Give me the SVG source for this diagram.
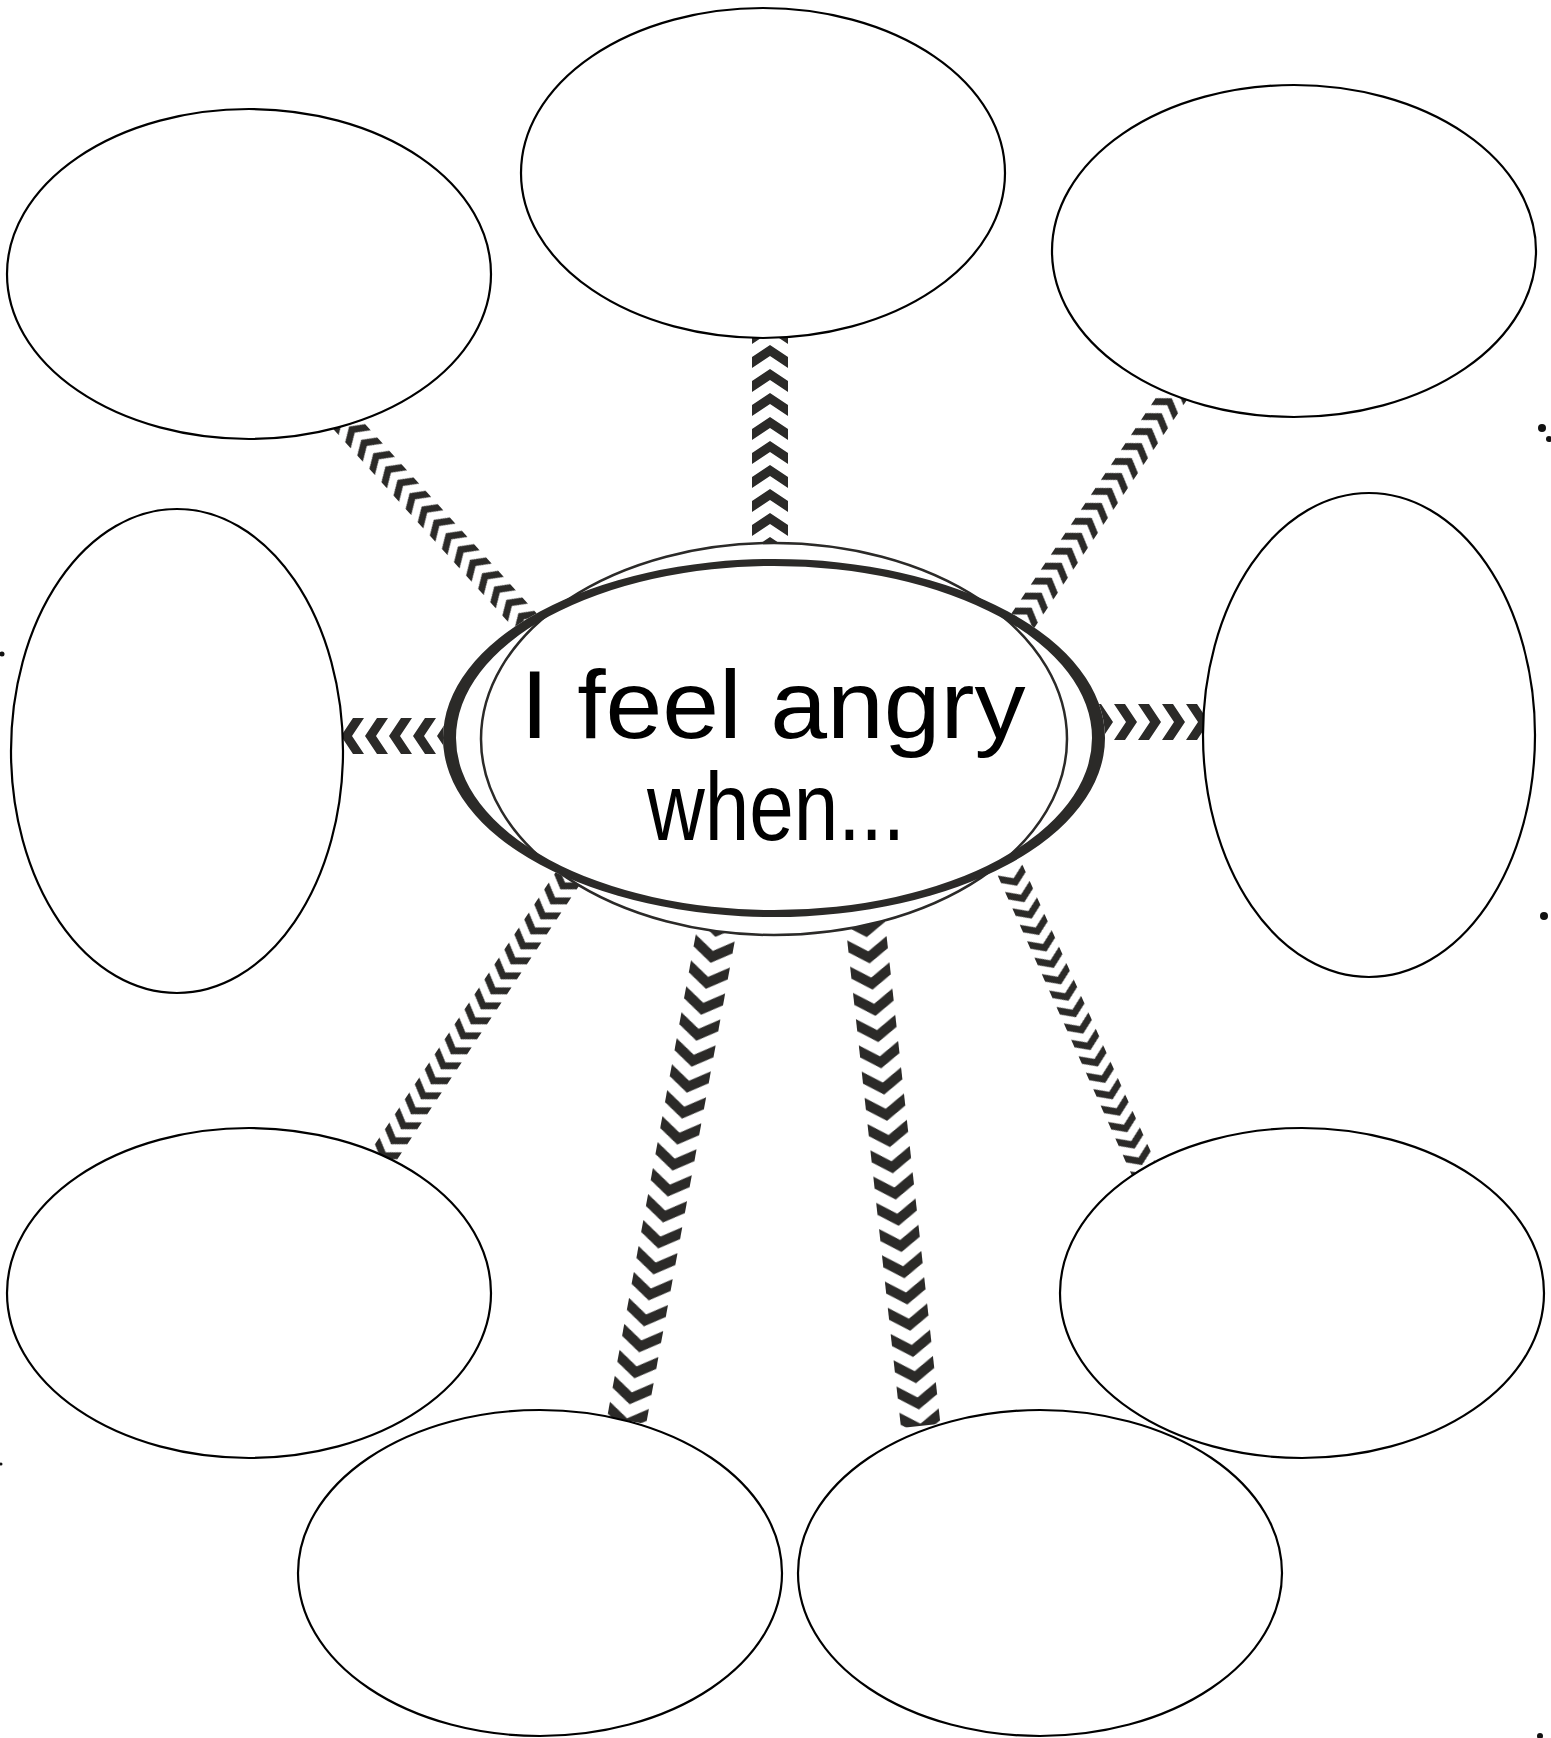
<svg xmlns="http://www.w3.org/2000/svg" width="1551" height="1738" viewBox="0 0 1551 1738">
<style>
.bub{fill:#fff;stroke:#000;stroke-width:2.2}
.lbl{font-family:"Liberation Sans","DejaVu Sans",sans-serif;font-size:97px;fill:#000;text-anchor:middle}
.dot{fill:#111}
</style>
<defs>
<pattern id="chev" patternUnits="userSpaceOnUse" x="0" y="-18" width="24" height="36">
<polygon points="0,0 11,0 23,18 11,36 0,36 12,18" fill="#2b2a28"/>
</pattern>
</defs>
<rect width="1551" height="1738" fill="#fff"/>
<g id="connectors">
<g transform="translate(770,560) rotate(-90)"><rect x="0" y="-18" width="240" height="36" fill="url(#chev)"/></g>
<g transform="translate(460,736) rotate(180)"><rect x="0" y="-18" width="140" height="36" fill="url(#chev)"/></g>
<g transform="translate(1090,722)"><rect x="0" y="-18" width="130" height="36" fill="url(#chev)"/></g>
<g transform="translate(530,626) rotate(-132.2) scale(0.75)"><rect x="0" y="-18" width="400" height="36" fill="url(#chev)"/></g>
<g transform="translate(1022,622) rotate(-56.2) scale(0.75)"><rect x="0" y="-18" width="390" height="36" fill="url(#chev)"/></g>
<g transform="translate(570,875) rotate(123.6) scale(0.75)"><rect x="0" y="-18" width="490" height="36" fill="url(#chev)"/></g>
<g transform="translate(1010,870) rotate(65.9) scale(0.75)"><rect x="0" y="-18" width="450" height="36" fill="url(#chev)"/></g>
<g transform="translate(720,912) rotate(100.4) scale(1.1)"><rect x="0" y="-18" width="470" height="36" fill="url(#chev)"/></g>
<g transform="translate(864,912) rotate(83.7) scale(1.1)"><rect x="0" y="-18" width="470" height="36" fill="url(#chev)"/></g>
</g>
<g id="node-top-left"><ellipse class="bub" cx="249" cy="274" rx="242" ry="165"/></g>
<g id="node-top"><ellipse class="bub" cx="763" cy="173" rx="242" ry="165"/></g>
<g id="node-top-right"><ellipse class="bub" cx="1294" cy="251" rx="242" ry="166"/></g>
<g id="node-left"><ellipse class="bub" cx="177" cy="751" rx="166" ry="242"/></g>
<g id="node-right"><ellipse class="bub" cx="1369" cy="735" rx="166" ry="242"/></g>
<g id="node-bottom-left"><ellipse class="bub" cx="249" cy="1293" rx="242" ry="165"/></g>
<g id="node-bottom-right"><ellipse class="bub" cx="1302" cy="1293" rx="242" ry="165"/></g>
<g id="node-bottom-center-left"><ellipse class="bub" cx="540" cy="1573" rx="242" ry="163"/></g>
<g id="node-bottom-center-right"><ellipse class="bub" cx="1040" cy="1573" rx="242" ry="163"/></g>
<g id="node-center">
<ellipse cx="774" cy="738" rx="331" ry="179" fill="#fff"/>
<ellipse cx="774" cy="739" rx="293" ry="196" fill="#fff"/>
<path fill="#2b2a28" fill-rule="evenodd" d="M443,738a331,179 0 1,0 662,0a331,179 0 1,0 -662,0Z M456,738a318,172 0 1,0 636,0a318,172 0 1,0 -636,0Z"/>
<ellipse cx="774" cy="739" rx="293" ry="196" fill="none" stroke="#2b2a28" stroke-width="2.5"/>
<text class="lbl" x="773" y="738" textLength="505" lengthAdjust="spacingAndGlyphs">I feel angry</text>
<text class="lbl" x="776" y="840" textLength="258" lengthAdjust="spacingAndGlyphs">when...</text>
</g>
<g id="marks">
<circle class="dot" cx="1542" cy="428" r="4"/>
<circle class="dot" cx="1549" cy="439" r="3"/>
<circle class="dot" cx="1544" cy="916" r="4"/>
<circle class="dot" cx="2" cy="654" r="2.5"/>
<circle class="dot" cx="1" cy="1464" r="1.5"/>
<circle class="dot" cx="1540" cy="1736" r="3"/>
</g>
</svg>
